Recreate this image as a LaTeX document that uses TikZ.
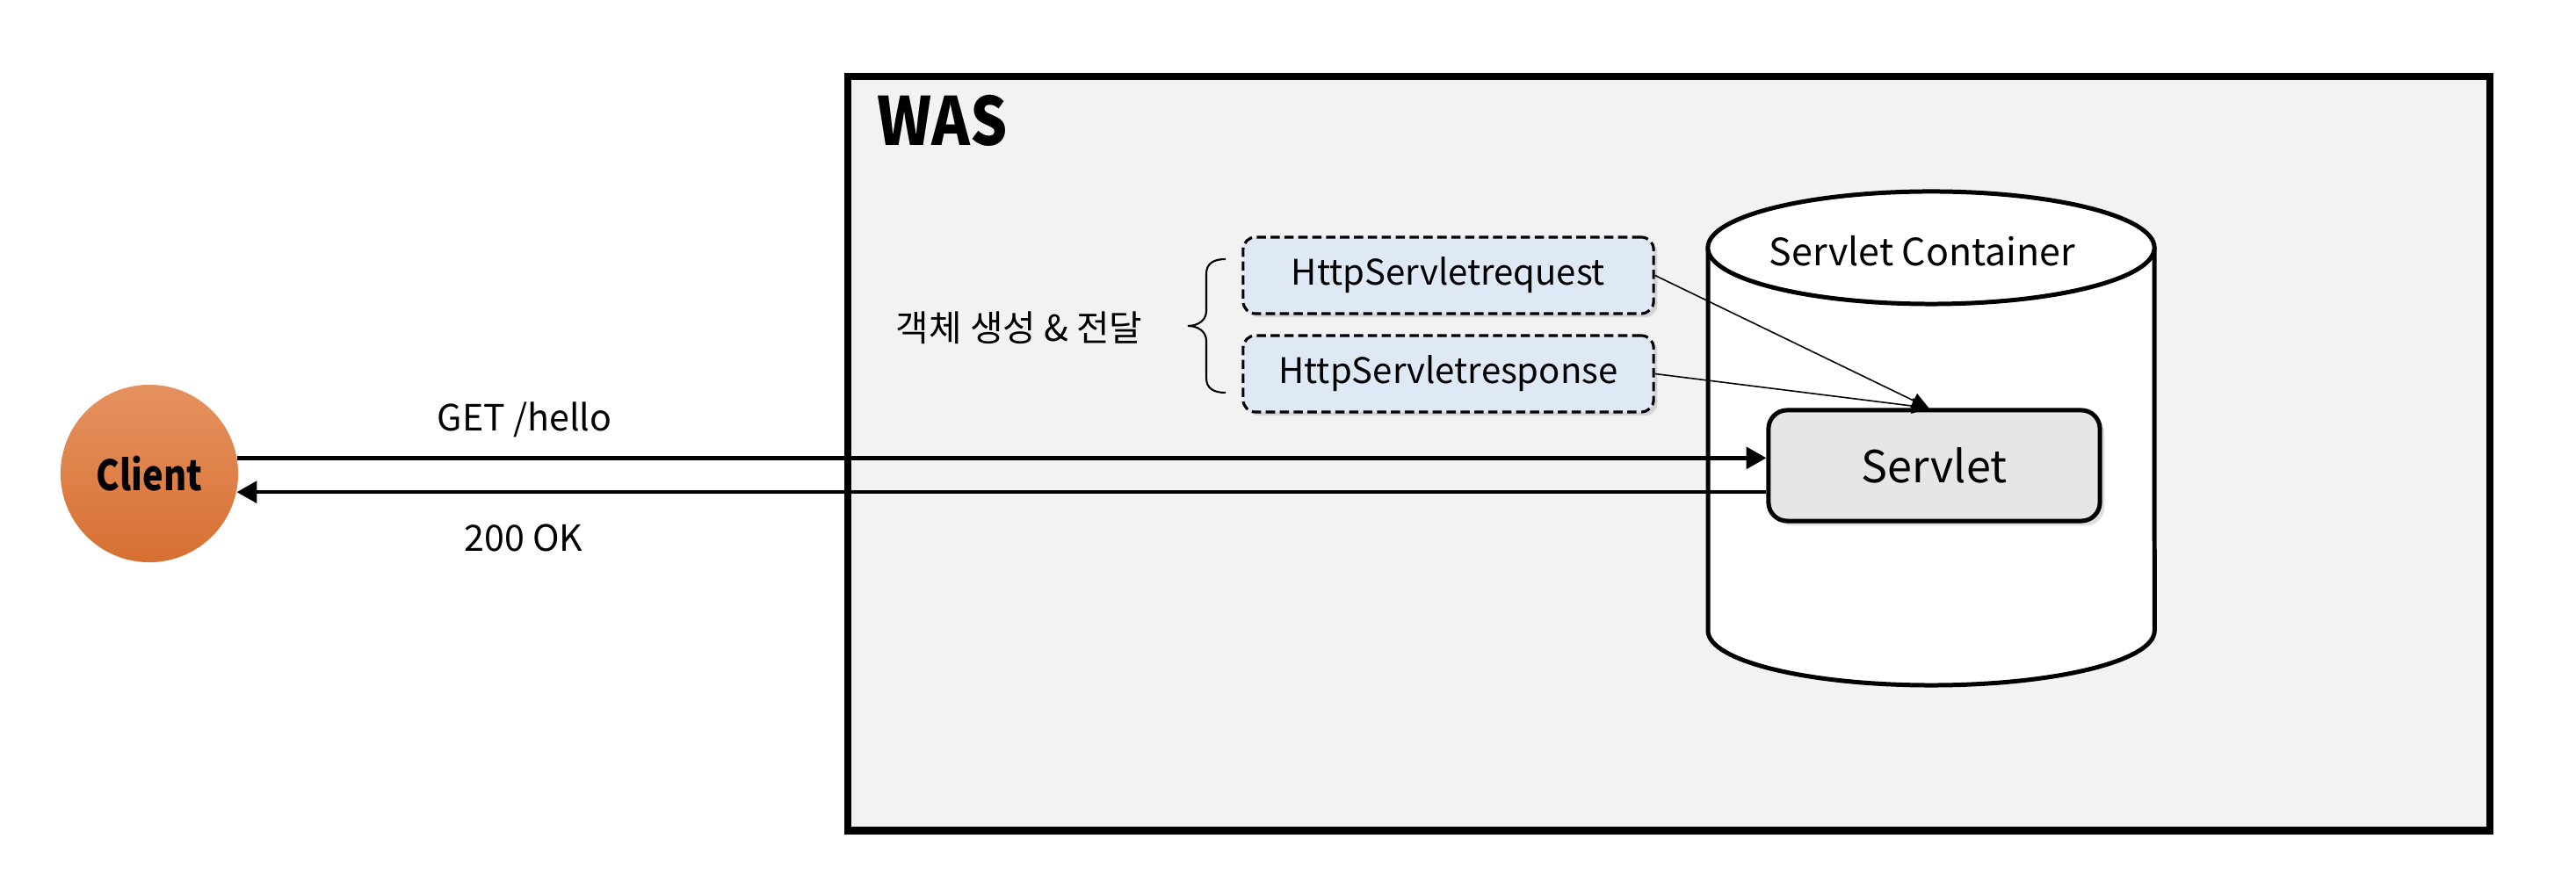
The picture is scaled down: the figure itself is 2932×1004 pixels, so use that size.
\documentclass[tikz,border=0pt]{standalone}
\usepackage{fontspec}
\usepackage{graphicx}
\setmainfont{Noto Sans CJK KR}
\usetikzlibrary{arrows.meta,shadows,calc}
\definecolor{wasfill}{RGB}{242,242,242}
\definecolor{reqfill}{RGB}{223,233,245}
\definecolor{servfill}{RGB}{230,230,230}
\definecolor{cltop}{RGB}{229,146,96}
\definecolor{clbot}{RGB}{215,112,50}
\begin{document}
\begin{tikzpicture}[x=0.01cm,y=-0.01cm,
  wasbox/.style={draw, fill=wasfill, line width=2.3pt, inner sep=0pt, anchor=north west},
  objbox/.style={draw, fill=reqfill, line width=0.9pt, dash pattern=on 3pt off 1.5pt,
    rounded corners=4pt, minimum width=4.67cm, minimum height=0.87cm, inner sep=0pt,
    drop shadow={opacity=0.25, shadow xshift=1.2pt, shadow yshift=-1.2pt},
    font=\fontsize{11.4}{13}\selectfont},
  servbox/.style={draw, fill=servfill, line width=1.42pt, rounded corners=6pt,
    minimum width=3.77cm, minimum height=1.26cm, inner sep=0pt,
    drop shadow={opacity=0.25, shadow xshift=1.5pt, shadow yshift=-1.5pt},
    font=\fontsize{14.3}{16}\selectfont},
  cyl/.style={line width=1.42pt},
  flow/.style={line width=1.3pt, -{Triangle[length=6.5pt,width=7pt]}},
  pass/.style={line width=0.45pt, -{Triangle[length=5.5pt,width=5pt]}},
  lbl/.style={font=\fontsize{11.7}{13}\selectfont}
]
\useasboundingbox (0,0) rectangle (2932,1004);

% WAS box
\node[wasbox, minimum width=18.68cm, minimum height=8.58cm] (was) at (961,83) {};
\node[anchor=base west, inner sep=0pt, font=\bfseries\fontsize{21.5}{24}\selectfont] (waslabel) at (998,166) {\scalebox{0.88}[1]{WAS}};

% Servlet container cylinder
\fill[white] (1944,282) -- (1944,718)
  arc[start angle=180, end angle=360, x radius=2.54cm, y radius=0.62cm]
  -- (2452,282) -- cycle;
\draw[cyl] (1944,282) -- (1944,718)
  arc[start angle=180, end angle=360, x radius=2.54cm, y radius=0.62cm]
  -- (2452,282);
\draw[cyl, fill=white] (2198,282) ellipse[x radius=2.54cm, y radius=0.64cm];
\node[font=\fontsize{12.2}{14}\selectfont] (containerlabel) at (2188,286) {Servlet Container};

% Servlet
\node[servbox] (servlet) at (2201.5,530) {Servlet};

% Request / response objects
\node[objbox] (req) at (1648.5,313.5) {HttpServletrequest};
\node[objbox] (resp) at (1648.5,425.5) {HttpServletresponse};

% Brace and label
\draw[line width=0.6pt] (1395,295) .. controls (1381,295) and (1373,300) .. (1373,312)
  -- (1373,354) .. controls (1373,365) and (1363,371) .. (1352,371)
  .. controls (1363,371) and (1373,377) .. (1373,388)
  -- (1373,430) .. controls (1373,442) and (1381,447) .. (1395,447);
\node[font=\fontsize{11.6}{13}\selectfont] (create) at (1160,373) {객체 생성 \& 전달};

% Client
\node[circle, minimum size=2.02cm, inner sep=0pt, top color=cltop, bottom color=clbot,
  font=\bfseries\fontsize{13.5}{15}\selectfont] (client) at (170,539) {\scalebox{0.84}[1]{Client}};

% Flows
\draw[flow] (client.10.8) -- (client.10.8 -| servlet.west);
\draw[flow] (servlet.west |- client.-12.6) -- (client.-12.6);
\node[lbl] (get) at (597,478) {GET /hello};
\node[lbl] (ok) at (596,612) {200 OK};

\coordinate (tip) at ($(servlet.north)+(-6,0)$);
\draw[pass] (req.east) -- (tip);
\draw[pass] (resp.east) -- (tip);
\end{tikzpicture}
\end{document}
